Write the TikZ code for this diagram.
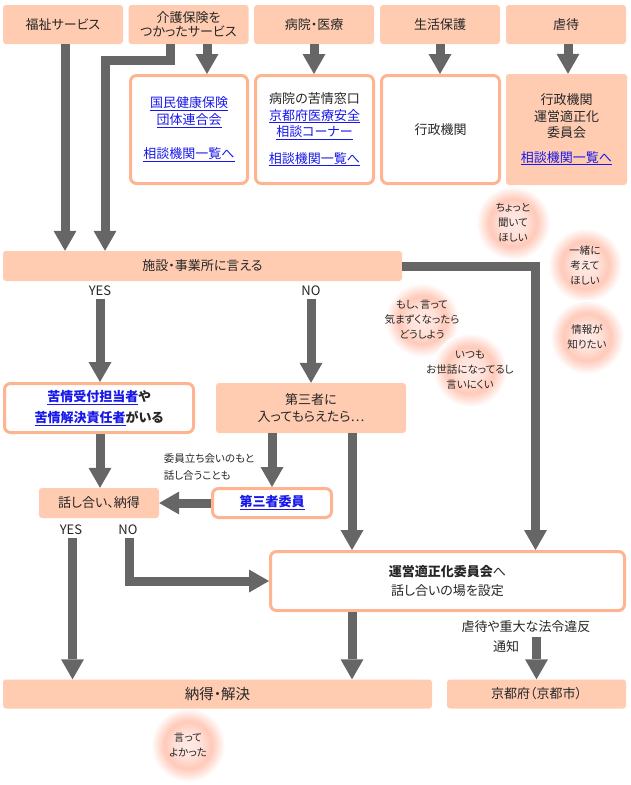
\documentclass[tikz,border=0pt]{standalone}
\usepackage{fontspec}
\setmainfont{Noto Sans CJK JP}[RawFeature=+palt]
\usetikzlibrary{arrows.meta,positioning,calc}
\definecolor{boxPeach}{RGB}{255,204,178}
\definecolor{edgePeach}{RGB}{255,180,145}
\definecolor{arrowGray}{RGB}{102,102,102}
\definecolor{linkBlue}{RGB}{24,24,235}
\definecolor{bubblePeach}{RGB}{255,188,168}
\pgfdeclareradialshading{bubble}{\pgfpoint{0bp}{0bp}}{%
  color(0bp)=(bubblePeach!30); color(9bp)=(bubblePeach!45);
  color(16bp)=(bubblePeach!80); color(20bp)=(bubblePeach!45);
  color(25bp)=(white); color(50bp)=(white)}
\newcommand{\lnk}[1]{\textcolor{linkBlue}{\underline{#1}}}

\begin{document}
\begin{tikzpicture}[x=1pt, y=-1pt,
  every node/.style={font=\fontsize{13}{16.5}\selectfont, text=black!85},
  tab/.style={fill=boxPeach, rounded corners=3pt, minimum width=120pt,
              minimum height=39pt, align=center, inner sep=0pt},
  bar/.style={fill=boxPeach, rounded corners=3pt, align=center, inner sep=0pt},
  card/.style={draw=edgePeach, line width=3pt, fill=white, rounded corners=6pt,
               align=center, inner sep=0pt},
  talk/.style={font=\fontsize{10.5}{15}\selectfont, align=center, inner sep=0pt},
  flow/.style={draw=arrowGray, line width=9pt, line join=miter,
               -{Triangle[width=23pt, length=20pt, line width=0pt]}},
]
\useasboundingbox (0,0) rectangle (630,785);

% Voices
\shade[shading=bubble] (513,223) circle (37);
\shade[shading=bubble] (585,265) circle (37);
\shade[shading=bubble] (587,337) circle (37);
\shade[shading=bubble] (422,320) circle (37);
\shade[shading=bubble] (470,370) circle (37);
\shade[shading=bubble] (188,745) circle (37);
\node[talk] (v1) at (513,223) {ちょっと\\聞いて\\ほしい};
\node[talk] (v2) at (585,265) {一緒に\\考えて\\ほしい};
\node[talk] (v3) at (587,337) {情報が\\知りたい};
\node[talk] (v4) at (422,320) {もし、言って\\気まずくなったら\\どうしよう};
\node[talk] (v5) at (470,370) {いつも\\お世話になってるし\\言いにくい};
\node[talk] (v6) at (188,745) {言って\\よかった};

\node[tab] (fukushi) at (63,24.5) {福祉サービス};
\node[tab] (kaigo) at (188.5,24.5) {介護保険を\\[-3pt]つかったサービス};
\node[tab] (byoin) at (314,24.5) {病院・医療};
\node[tab] (seikatsu) at (440,24.5) {生活保護};
\node[tab] (gyakutai) at (566,24.5) {虐待};

\node[card, minimum width=117pt, minimum height=108pt] (kokuho) at (189,129.5)
  {\lnk{国民健康保険}\\\lnk{団体連合会}\\[18pt]\lnk{相談機関一覧へ}};
\node[card, minimum width=118pt, minimum height=108pt] (iryo) at (314.5,129.5)
  {病院の苦情窓口\\\lnk{京都府医療安全}\\\lnk{相談コーナー}\\[10pt]\lnk{相談機関一覧へ}};
\node[card, minimum width=118pt, minimum height=108pt] (gyosei) at (440.5,129.5)
  {行政機関};
\node[tab, minimum width=121pt, minimum height=111pt] (tekisei) at (566.5,129.5)
  {行政機関\\運営適正化\\委員会\\[8pt]\lnk{相談機関一覧へ}};

\node[bar, minimum width=399pt, minimum height=30pt] (shisetsu) at (202.5,266)
  {施設・事業所に言える};
\node (yes1) at (100,291) {YES};
\node (no1) at (311,291) {NO};

\node[card, minimum width=189pt, minimum height=49pt] (kujo) at (99,408)
  {\textbf{\lnk{苦情受付担当者}や}\\[4pt]\textbf{\lnk{苦情解決責任者}がいる}};
\node[bar, minimum width=190pt, minimum height=50pt] (daisan) at (311,408)
  {第三者に\\入ってもらえたら⋯};

\node[bar, minimum width=120pt, minimum height=30pt] (hanashi) at (99,503)
  {話し合い、納得};
\node[card, minimum width=119pt, minimum height=29pt] (iin) at (272,503)
  {\textbf{\lnk{第三者委員}}};
\node[talk, align=left, font=\fontsize{10.5}{17}\selectfont] (tachiai) at (209,467.5)
  {委員立ち会いのもと\\話し合うことも};
\node (yes2) at (71,530) {YES};
\node (no2) at (128,530) {NO};

\node[card, minimum width=354pt, minimum height=59pt] (unei) at (447.5,581)
  {\textbf{運営適正化委員会}へ\\[2pt]話し合いの場を設定};
\node (ihan) at (526,627) {虐待や重大な法令違反};
\node (tsuchi) at (506,647) {通知};

\node[bar, minimum width=429pt, minimum height=29pt,
      font=\fontsize{14.5}{18}\selectfont] (kaiketsu) at (217.5,694) {納得・解決};
\node[bar, minimum width=179pt, minimum height=29pt] (kyoto) at (536.5,694)
  {京都府（京都市）};

% Arrows
\draw[flow] ([xshift=2pt]fukushi.south) -- ([xshift=2pt]fukushi.south |- shisetsu.north);
\draw[flow] ([xshift=-18pt]kaigo.south) -- ++(0,16) -| ([xshift=-97.5pt]shisetsu.north);
\draw[flow] ([xshift=18.5pt]kaigo.south) -- ([xshift=18.5pt]kaigo.south |- kokuho.north);
\draw[flow] (byoin.south) -- (byoin.south |- iryo.north);
\draw[flow] (seikatsu.south) -- (seikatsu.south |- gyosei.north);
\draw[flow] ([xshift=2pt]gyakutai.south) -- ([xshift=2pt]gyakutai.south |- tekisei.north);

\draw[flow] (shisetsu.east) -| ([xshift=88pt]unei.north);
\draw[flow] (yes1.south) -- (yes1.south |- kujo.north);
\draw[flow] (no1.south) -- (no1.south |- daisan.north);

\draw[flow] ([xshift=1pt]kujo.south) -- ([xshift=1pt]kujo.south |- hanashi.north);
\draw[flow] ([xshift=-39pt]daisan.south) -- (iin.north);
\draw[flow] ([xshift=41pt]daisan.south) -- ([xshift=41pt]daisan.south |- unei.north);
\draw[flow] (iin.west) -- (hanashi.east);

\draw[flow] ([xshift=1.5pt]yes2.south) -- ([xshift=1.5pt]yes2.south |- kaiketsu.north);
\draw[flow] ([xshift=1pt]no2.south) |- (unei.west);
\draw[flow] ([xshift=-95.5pt]unei.south) -- ([xshift=-95.5pt]unei.south |- kaiketsu.north);
\draw[flow] (kyoto.north |- ihan.south) -- (kyoto.north);
\end{tikzpicture}
\end{document}
